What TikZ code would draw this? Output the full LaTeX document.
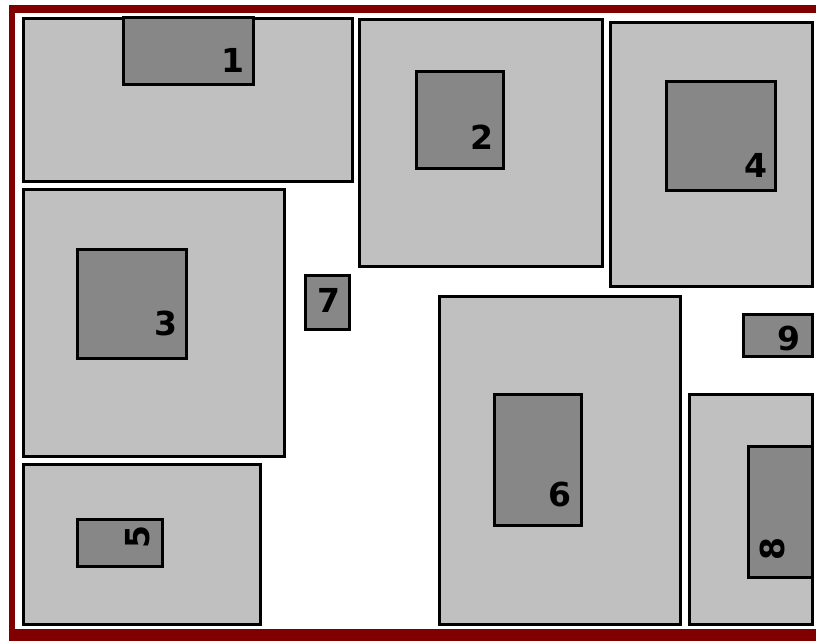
\documentclass[tikz,border=0pt]{standalone}
\usepackage{fontspec}
\setmainfont{DejaVu Sans}
\definecolor{frame}{HTML}{800000}
\definecolor{light}{HTML}{C0C0C0}
\definecolor{dark}{HTML}{878787}
\tikzset{
  outerbox/.style={draw=black, line width=3pt, fill=light},
  innerbox/.style={draw=black, line width=3pt, fill=dark},
  lbl/.style={font=\fontsize{33}{33}\selectfont\bfseries, inner sep=0pt, text=black}
}
\begin{document}
\begin{tikzpicture}[x=1pt,y=-1pt]
\useasboundingbox (0,0) rectangle (816,640);
\clip (0,0) rectangle (816,640);
\fill[white] (0,0) rectangle (816,640);
\fill[frame] (9,5) rectangle (830,650);
\fill[white] (15,13) rectangle (824,629);
% box 1
\draw[outerbox] (23.5,18.5) rectangle (352.5,181.5);
\draw[innerbox] (123.5,17) rectangle (253.5,84.5);
\node[lbl] (l1) at (233,60) {1};
% box 2
\draw[outerbox] (359.5,19.5) rectangle (602.5,266.5);
\draw[innerbox] (416.5,71.5) rectangle (503.5,168.5);
\node[lbl] (l2) at (482,137) {2};
% box 4
\draw[outerbox] (610.5,22.5) rectangle (812.5,286.5);
\draw[innerbox] (666.5,81.5) rectangle (775.5,190.5);
\node[lbl] (l4) at (756,165) {4};
% box 3
\draw[outerbox] (23.5,189.5) rectangle (284.5,456.5);
\draw[innerbox] (77.5,249.5) rectangle (186.5,358.5);
\node[lbl] (l3) at (166,323) {3};
% box 5
\draw[outerbox] (23.5,464.5) rectangle (260.5,624.5);
\draw[innerbox] (77.5,519.5) rectangle (162.5,566.5);
\node[lbl, rotate=90] (l5) at (138,537) {5};
% box 7
\draw[innerbox] (305.5,275.5) rectangle (349.5,329.5);
\node[lbl] (l7) at (329,300) {7};
% box 6
\draw[outerbox] (439.5,296.5) rectangle (680.5,624.5);
\draw[innerbox] (494.5,394.5) rectangle (581.5,525.5);
\node[lbl] (l6) at (560,494) {6};
% box 9
\draw[innerbox] (743.5,314.5) rectangle (812,356.5);
\node[lbl] (l9) at (789,338) {9};
% box 8
\draw[outerbox] (689.5,394.5) rectangle (812.5,624.5);
\draw[innerbox] (748.5,446.5) rectangle (812.5,577.5);
\node[lbl, rotate=90] (l8) at (772,549) {8};
\end{tikzpicture}
\end{document}
